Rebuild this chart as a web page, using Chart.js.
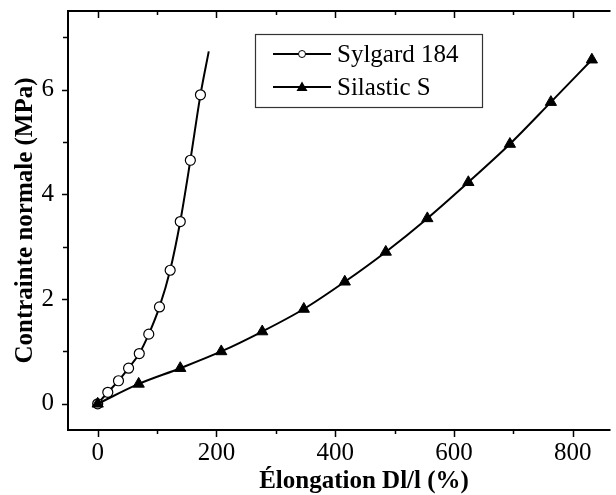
<!DOCTYPE html>
<html>
<head>
<meta charset="utf-8">
<title>Contrainte normale - élongation</title>
<script src="https://cdn.jsdelivr.net/npm/chart.js@4/dist/chart.umd.min.js"></script>
<style>
  body { margin: 0; background: #fff; overflow: hidden; }
</style>
</head>
<body>
<canvas id="strainChart" width="616" height="495"></canvas>
<script>
// Sylgard 184 (open circles) - last point is where the fitted curve stops, no marker there
var sylgardX = [0, 17, 35, 52, 70, 86, 104, 122, 139, 156, 173, 187];
var sylgardY = [0, 0.22, 0.44, 0.68, 0.96, 1.33, 1.85, 2.55, 3.48, 4.65, 5.90, 6.73];

// Silastic S (filled triangles)
var silasticX = [0, 69, 139, 208, 277, 347, 416, 485, 555, 624, 694, 763, 832];
var silasticY = [0, 0.38, 0.68, 1.0, 1.38, 1.81, 2.33, 2.90, 3.54, 4.23, 4.96, 5.76, 6.57];

var seriesNames = ["Sylgard 184", "Silastic S"];
var xTitle = "Élongation Dl/l (%)";
var yTitle = "Contrainte normale (MPa)";
var xTicks = [0, 200, 400, 600, 800];
var xMinorTicks = [100, 300, 500, 700];
var yTicks = [0, 2, 4, 6];
var yMinorTicks = [1, 3, 5, 7];

var serif = "'Liberation Serif', 'Times New Roman', serif";

function toPoints(xs, ys) {
  return xs.map(function (x, i) { return { x: x, y: ys[i] }; });
}

// frame on left/top/bottom with Origin-style major and minor ticks
var framePlugin = {
  id: "frame",
  afterDatasetsDraw: function (chart) {
    var ctx = chart.ctx;
    var a = chart.chartArea;
    var xs = chart.scales.x, ys = chart.scales.y;
    ctx.save();
    ctx.strokeStyle = "#000";
    ctx.lineWidth = 2;
    ctx.beginPath();
    ctx.moveTo(a.right + 2, a.top);
    ctx.lineTo(a.left, a.top);
    ctx.lineTo(a.left, a.bottom);
    ctx.lineTo(a.right + 2, a.bottom);
    ctx.stroke();

    ctx.lineWidth = 1.5;
    ctx.beginPath();
    function xTick(v, len) {
      var px = Math.round(xs.getPixelForValue(v)) + 0.5;
      ctx.moveTo(px, a.bottom);
      ctx.lineTo(px, a.bottom + len);
      ctx.moveTo(px, a.top);
      ctx.lineTo(px, a.top + len);
    }
    function yTick(v, len) {
      var py = Math.round(ys.getPixelForValue(v)) + 0.5;
      ctx.moveTo(a.left, py);
      ctx.lineTo(a.left - len, py);
    }
    xTicks.forEach(function (v) { xTick(v, 7); });
    xMinorTicks.forEach(function (v) { xTick(v, 4); });
    yTicks.forEach(function (v) { yTick(v, 6); });
    yMinorTicks.forEach(function (v) { yTick(v, 5); });
    ctx.stroke();

    // x title sits a bit right of centre, the original frame runs past the crop
    ctx.fillStyle = "#000";
    ctx.font = "bold 25px " + serif;
    ctx.textAlign = "center";
    ctx.textBaseline = "middle";
    ctx.fillText(xTitle, 364, 482);
    ctx.restore();
  }
};

// legend box inside the plot, top right
var legendPlugin = {
  id: "boxLegend",
  afterDraw: function (chart) {
    var ctx = chart.ctx;
    ctx.save();
    ctx.strokeStyle = "#333";
    ctx.lineWidth = 1.2;
    ctx.strokeRect(255.5, 34.5, 227, 73);

    var rows = [54, 87];
    rows.forEach(function (y, i) {
      ctx.strokeStyle = "#000";
      ctx.lineWidth = 2;
      ctx.beginPath();
      ctx.moveTo(273, y);
      ctx.lineTo(331, y);
      ctx.stroke();
      ctx.beginPath();
      if (i === 0) {
        ctx.arc(302, y, 3.5, 0, Math.PI * 2);
        ctx.fillStyle = "#fff";
        ctx.fill();
        ctx.lineWidth = 1;
        ctx.stroke();
      } else {
        ctx.moveTo(302, y - 5.5);
        ctx.lineTo(307.5, y + 4);
        ctx.lineTo(296.5, y + 4);
        ctx.closePath();
        ctx.fillStyle = "#000";
        ctx.fill();
      }
      ctx.fillStyle = "#000";
      ctx.font = "25px " + serif;
      ctx.textBaseline = "middle";
      ctx.fillText(seriesNames[i], 337, y + 1);
    });
    ctx.restore();
  }
};

var ctxStrain = document.getElementById("strainChart").getContext("2d");
var strainChart = new Chart(ctxStrain, {
  type: "line",
  data: {
    datasets: [
      {
        label: seriesNames[0],
        data: toPoints(sylgardX, sylgardY),
        borderColor: "#000",
        borderWidth: 2,
        backgroundColor: "#fff",
        pointBackgroundColor: "#fff",
        pointBorderColor: "#000",
        pointBorderWidth: 1.2,
        pointRadius: sylgardX.map(function (v, i) { return i === sylgardX.length - 1 ? 0 : 5; }),
        pointStyle: "circle",
        cubicInterpolationMode: "monotone",
        fill: false,
        order: 1
      },
      {
        label: seriesNames[1],
        data: toPoints(silasticX, silasticY),
        borderColor: "#000",
        borderWidth: 2,
        backgroundColor: "#000",
        pointBackgroundColor: "#000",
        pointBorderColor: "#000",
        pointBorderWidth: 1,
        pointRadius: 6.5,
        pointStyle: "triangle",
        cubicInterpolationMode: "monotone",
        fill: false,
        order: 0
      }
    ]
  },
  options: {
    responsive: false,
    animation: false,
    layout: { padding: { top: 11, right: 0, bottom: 0, left: 0 } },
    plugins: {
      legend: { display: false },
      tooltip: { enabled: false }
    },
    scales: {
      x: {
        type: "linear",
        min: -50,
        max: 860,
        afterBuildTicks: function (scale) {
          scale.ticks = xTicks.map(function (v) { return { value: v }; });
        },
        afterFit: function (scale) {
          scale.height = 65;
          scale.paddingLeft = 0;
          scale.paddingRight = 0;
        },
        grid: { display: false, drawTicks: false },
        border: { display: false },
        ticks: {
          color: "#000",
          padding: 8,
          maxRotation: 0,
          font: { family: serif, size: 25 }
        },
        title: { display: false }
      },
      y: {
        type: "linear",
        min: -0.5,
        max: 7.5,
        afterBuildTicks: function (scale) {
          scale.ticks = yTicks.map(function (v) { return { value: v }; });
        },
        afterFit: function (scale) {
          scale.width = 68;
          scale.paddingTop = 0;
          scale.paddingBottom = 0;
        },
        grid: { display: false, drawTicks: false },
        border: { display: false },
        ticks: {
          color: "#000",
          padding: 14,
          font: { family: serif, size: 25 }
        },
        title: {
          display: true,
          text: yTitle,
          color: "#000",
          font: { family: serif, size: 25, weight: "bold", lineHeight: 1 },
          padding: { top: 13, bottom: 0 }
        }
      }
    }
  },
  plugins: [framePlugin, legendPlugin]
});
</script>
</body>
</html>
